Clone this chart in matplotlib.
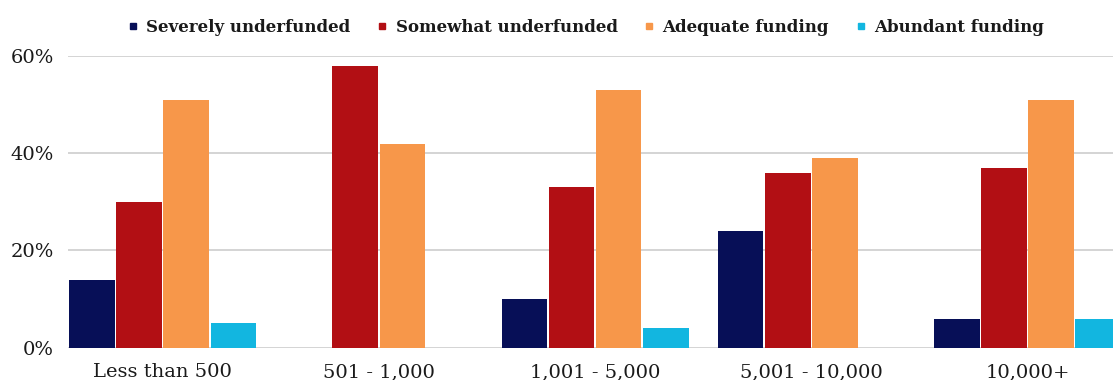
import matplotlib
matplotlib.use("Agg")
import matplotlib.pyplot as plt
from matplotlib.lines import Line2D
import numpy as np

categories = ["Less than 500", "501 - 1,000", "1,001 - 5,000", "5,001 - 10,000", "10,000+"]
series = ["Severely underfunded", "Somewhat underfunded", "Adequate funding", "Abundant funding"]
severely = [14, 0, 10, 24, 6]
somewhat = [30, 58, 33, 36, 37]
adequate = [51, 42, 53, 39, 51]
abundant = [5, 0, 4, 0, 6]
colors = ["#070f57", "#b20f14", "#f7974a", "#12b6e0"]
yticks = [0, 20, 40, 60]

plt.rcParams["font.family"] = ["DejaVu Serif"]

fig = plt.figure(figsize=(11.13, 3.8), dpi=100)
ax = fig.add_axes([68 / 1113, 32.3 / 380, 1 - 68 / 1113, (347.7 - 56) / 380])

x = np.arange(len(categories))
pitch = 0.218
width = 0.211
for i, (vals, col) in enumerate(zip([severely, somewhat, adequate, abundant], colors)):
    ax.bar(x + (i - 1.5) * pitch, vals, width=width, color=col, zorder=3)

ax.set_xlim(-0.4375, 4.395)
ax.set_ylim(0, 60)
ax.set_yticks(yticks)
ax.set_yticklabels([f"{v}%" for v in yticks], fontsize=14, color="#1a1a1a")
ax.set_xticks(x)
ax.set_xticklabels(categories, fontsize=14, color="#1a1a1a")
ax.tick_params(axis="y", length=0, pad=10)
ax.tick_params(axis="x", length=0, pad=11)
ax.grid(axis="y", color="#d4d4d4", linewidth=1.4, zorder=0)
for s in ax.spines.values():
    s.set_visible(False)

handles = [Line2D([], [], marker="s", linestyle="none", markersize=5, color=c) for c in colors]
fig.legend(handles, series, loc="center", bbox_to_anchor=(586 / 1113, 1 - 27 / 380), ncol=4,
           frameon=False, prop={"size": 12, "weight": "bold"}, handlelength=0.6,
           handletextpad=0.5, columnspacing=1.6, labelcolor="#1a1a1a")

fig.savefig("out.png", dpi=100)
